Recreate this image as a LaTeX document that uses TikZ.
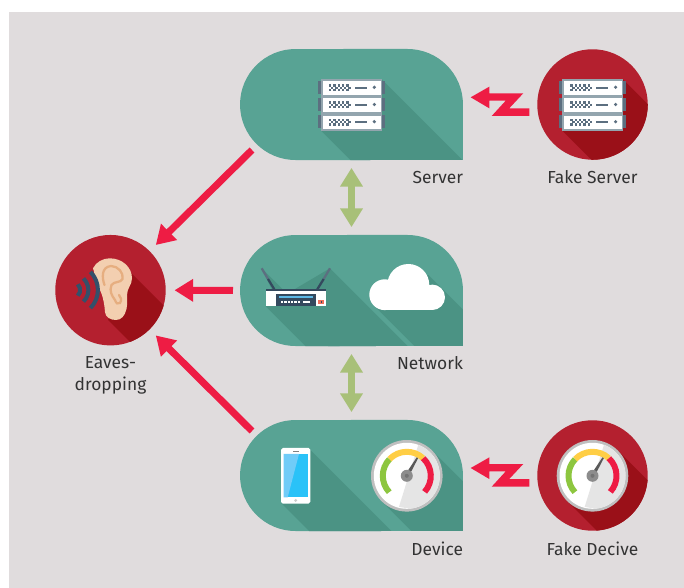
\documentclass[tikz,border=0pt]{standalone}
\usepackage{fontspec}
\setmainfont{Fira Sans}
\usepackage{xcolor}
\usetikzlibrary{arrows.meta,calc,positioning}

\definecolor{panelgray}{HTML}{E0DCDD}
\definecolor{blobteal}{HTML}{58A394}
\definecolor{blobshade}{HTML}{4B9384}
\definecolor{discred}{HTML}{B4202F}
\definecolor{discshade}{HTML}{9A1018}
\definecolor{attackred}{HTML}{EE1C44}
\definecolor{linkgreen}{HTML}{A8C078}
\definecolor{rackgray}{HTML}{93A5AE}
\definecolor{rackslate}{HTML}{5C6F80}
\definecolor{inkdark}{HTML}{34495E}
\definecolor{wavedark}{HTML}{34506A}
\definecolor{earskin}{HTML}{F3CFB0}
\definecolor{earline}{HTML}{E6AE80}
\definecolor{phoneblue}{HTML}{2AC2F8}
\definecolor{phonelight}{HTML}{70CCF8}
\definecolor{dialgreen}{HTML}{8DC63F}
\definecolor{dialyellow}{HTML}{FFCE45}
\definecolor{ledblue}{HTML}{5CB8E6}
\definecolor{portred}{HTML}{F0705C}

\tikzset{
    blobnode/.style={rectangle, inner sep=0pt, outer sep=0pt, minimum width=4.46cm, minimum height=2.22cm},
    discnode/.style={circle, inner sep=0pt, outer sep=0pt, minimum size=2.21cm, fill=discred},
    caption/.style={inner sep=0pt, outer sep=0pt, text=black!80, font=\fontsize{9.9}{12.5}\selectfont, align=center},
    attack/.style={line width=4pt, draw=attackred, -{Triangle[length=10.6pt,width=12.3pt]}},
    link/.style={line width=4pt, draw=linkgreen, {Triangle[length=10.6pt,width=12.3pt]}-{Triangle[length=10.6pt,width=12.3pt]}, shorten <=4.5pt, shorten >=4.5pt},
    rack/.pic={
        \fill[rackgray] (0,0) rectangle (60.7,-51.4);
        \foreach \unit in {0,17.2,34.4} {
            \fill[rackslate] (-3,-1.7-\unit) rectangle (0,-14.4-\unit);
            \fill[rackslate] (60.7,-1.7-\unit) rectangle (64,-14.4-\unit);
            \fill[white] (2,-2-\unit) rectangle (59.7,-15.6-\unit);
            \foreach \col in {0,...,9} \foreach \row in {0,1,2} {
                \pgfmathtruncatemacro\isodd{mod(\col+\row,2)}
                \ifnum\isodd=0
                    \fill[rackslate] (8+2.15*\col,-5-2.3*\row-\unit) rectangle ++(2.3,-2.3);
                \fi
            }
            \fill[rackslate] (34,-7.4-\unit) rectangle (45.7,-9.4-\unit);
            \fill[rackslate] (53.3,-8-\unit) circle[radius=1.8];
        }
    },
    gauge/.pic={
        \fill[black!25] (0,0) circle[radius=35.8];
        \fill[white] (0,0) circle[radius=33];
        \begin{scope}
            \clip (0,0) circle[radius=33];
            \fill[black!10] (11.5,31) -- (-7.8,-31) -- (40,-40) -- (40,40) -- cycle;
        \end{scope}
        \draw[line width=3.4pt, draw=dialgreen] (223:24) arc[start angle=223, end angle=136, radius=24];
        \draw[line width=3.4pt, draw=dialyellow] (136:24) arc[start angle=136, end angle=47, radius=24];
        \draw[line width=3.4pt, draw=attackred] (47:24) arc[start angle=47, end angle=-42, radius=24];
        \fill[black!65] (1.7,-1) -- (11.3,17.6) -- (9.9,18.4) -- (-1.7,1) -- cycle;
        \fill[black!45] (0,0) circle[radius=6];
        \fill[black!55] (0,0) circle[radius=2];
    },
    zigzag/.pic={
        \fill[attackred] (0,0) -- (18.6,10.6) -- (18.6,4) -- (52.6,4) -- (38.6,-11) -- (58.6,-11)
            -- (58.6,-18.7) -- (21,-18.7) -- (35,-3.4) -- (18.6,-3.4) -- (18.6,-11) -- cycle;
    }
}

% outline of a rounded panel, square at the lower right
\newcommand{\blobpath}[1]{
    (#1.south east) -- ++(0,55.5) arc[start angle=0, end angle=90, radius=55.5]
    -- ($(#1.north west)+(55.5,0)$) arc[start angle=90, end angle=270, radius=55.5] -- cycle
}
\newcommand{\longshade}[3]{\fill[#1] (#2) -- ++(160,-160) -- ([shift={(160,-160)}]#3) -- (#3) -- cycle;}

\begin{document}
\begin{tikzpicture}[x=0.02cm, y=0.02cm]
    \useasboundingbox (0,0) rectangle (684,-588);
    \fill[panelgray] (9,-12) rectangle (684,-588);

    \node[blobnode] (server) at (351.5,-104.5) {};
    \node[blobnode] (network) at (351.5,-290.5) {};
    \node[blobnode] (device) at (351.5,-475.5) {};
    \node[discnode] (fakeserver) at (592.5,-104.5) {};
    \node[discnode] (fakedevice) at (592.5,-475.5) {};
    \node[discnode] (eaves) at (110.5,-290.2) {};

    % server panel
    \fill[blobteal] \blobpath{server};
    \begin{scope}
        \clip \blobpath{server};
        \longshade{blobshade}{381.7,-79.3}{321,-130.7}
    \end{scope}
    \pic at (321,-79.3) {rack};

    % network panel
    \fill[blobteal] \blobpath{network};
    \begin{scope}
        \clip \blobpath{network};
        \longshade{blobshade}{330,-268.3}{265.7,-306.3}
        \longshade{blobshade}{261.7,-268.3}{272,-290}
        \longshade{blobshade}{428.3,-275}{373.3,-305}
    \end{scope}
    \draw[line width=1.3pt, draw=rackslate] (261.7,-268.3) -- (268,-279);
    \draw[line width=1.3pt, draw=inkdark] (268,-279) -- (274.3,-289.3);
    \draw[line width=1.3pt, draw=rackslate] (330,-268.3) -- (323.7,-279);
    \draw[line width=1.3pt, draw=inkdark] (323.7,-279) -- (317.3,-289.3);
    \fill[white] (265.7,-290) rectangle (326,-306.3);
    \fill[inkdark] (265.7,-289.3) rectangle (326,-291.3);
    \fill[inkdark] (276,-293.7) rectangle (316,-306.3);
    \fill[ledblue] (279,-296.4) rectangle (312.7,-297.8);
    \foreach \led in {0,3.4,...,17} {
        \fill[white] (280.7+\led,-301) rectangle ++(2.4,-1.8);
    }
    \fill[white] (303,-301) rectangle (310,-302.8);
    \fill[portred] (318,-300.3) rectangle (324.3,-304);
    \fill[inkdark] (320.5,-301.3) rectangle (322,-303);
    \fill[white] (384.7,-294.7) circle[radius=15.4];
    \fill[white] (408.3,-285) circle[radius=21];
    \fill[white] (432.3,-297.3) circle[radius=12.7];
    \fill[white] (384.7,-295) rectangle (432.3,-310);

    % device panel
    \fill[blobteal] \blobpath{device};
    \begin{scope}
        \clip \blobpath{device};
        \longshade{blobshade}{310.3,-450}{281.7,-503.7}
        \longshade{blobshade}{432.1,-450.5}{381.5,-501.1}
    \end{scope}
    \fill[white, rounded corners=1pt] (281,-448) rectangle (310.3,-503.7);
    \fill[phoneblue] (283.7,-454) rectangle (308.3,-497.3);
    \fill[phonelight] (283.7,-454) -- (299,-454) -- (287.7,-497.3) -- (283.7,-497.3) -- cycle;
    \fill[black!50] (293.3,-450.9) rectangle (298.7,-451.9);
    \fill[black!20] (295.7,-500.4) circle[radius=1.6];
    \pic at (406.8,-475.8) {gauge};

    % fake server disc
    \begin{scope}
        \clip (fakeserver) circle[radius=55.3];
        \longshade{discshade}{623,-79.3}{562.3,-130.7}
    \end{scope}
    \pic at (562.3,-79.3) {rack};

    % fake device disc
    \begin{scope}
        \clip (fakedevice) circle[radius=55.3];
        \longshade{discshade}{617.8,-450.5}{567.2,-501.1}
    \end{scope}
    \pic at (592.5,-475.8) {gauge};

    % eavesdropper disc
    \begin{scope}
        \clip (eaves) circle[radius=55.3];
        \longshade{discshade}{130,-272}{108,-320}
    \end{scope}
    \fill[earskin] (93,-268.3) .. controls (96,-262) and (103,-258.3) .. (109.7,-258.3)
        .. controls (122,-258.3) and (132,-267) .. (132,-278.3)
        .. controls (132,-285) and (127,-288) .. (127,-295)
        .. controls (127,-300) and (127.5,-304) .. (126.5,-309)
        .. controls (125,-316) and (121,-320) .. (116,-320)
        .. controls (110,-320) and (105.5,-317) .. (105,-312)
        .. controls (104.5,-305) and (103.5,-300) .. (102,-295)
        .. controls (100,-288) and (96,-285) .. (95.3,-281.7)
        .. controls (95,-277) and (94.5,-272) .. (93,-268.3) -- cycle;
    \draw[line width=1.3pt, draw=earline, line cap=round] (104.5,-285)
        .. controls (102,-278) and (101,-267) .. (111,-266)
        .. controls (118,-266) and (124,-273) .. (122.5,-279)
        .. controls (121,-283) and (114,-281) .. (111.5,-285)
        .. controls (109,-291) and (112,-296) .. (115,-300)
        .. controls (116,-303) and (118,-305) .. (120,-303)
        .. controls (122,-300) and (121,-297) .. (119,-295);
    \foreach \waverad/\waveang in {7.9/46, 16.1/46, 25.6/45} {
        \draw[line width=2.3pt, draw=wavedark] (72.3,-290) ++(-\waveang:\waverad)
            arc[start angle=-\waveang, end angle=\waveang, radius=\waverad];
    }

    % attacks on the channels
    \pic at ($(server.east)+(7.7,7.2)$) {zigzag};
    \pic at ($(device.east)+(7.7,7.5)$) {zigzag};
    \coordinate (servertap) at (252,-150);
    \coordinate (devicetap) at (252,-431);
    \draw[attack, shorten >=5pt] (servertap) -- (eaves.45);
    \draw[attack, shorten <=4pt, shorten >=5pt] (network.west) -- (eaves.east);
    \draw[attack, shorten >=5pt] (devicetap) -- (eaves.-45);

    % links between the layers
    \draw[link] (server.south) -- (network.north);
    \draw[link] (network.south) -- (device.north);

    % captions
    \node[caption, below left=6.2pt and 0pt of server.south east] (servercap) {Server};
    \node[caption, below left=6.2pt and 0pt of network.south east] (networkcap) {Network};
    \node[caption, below left=6.2pt and 0pt of device.south east] (devicecap) {Device};
    \node[caption, below=6.2pt of fakeserver.south] (fakeservercap) {Fake Server};
    \node[caption, below=6.2pt of fakedevice.south] (fakedevicecap) {Fake Decive};
    \node[caption, below=6.2pt of eaves.south] (eavescap) {Eaves-\\dropping};
\end{tikzpicture}
\end{document}
